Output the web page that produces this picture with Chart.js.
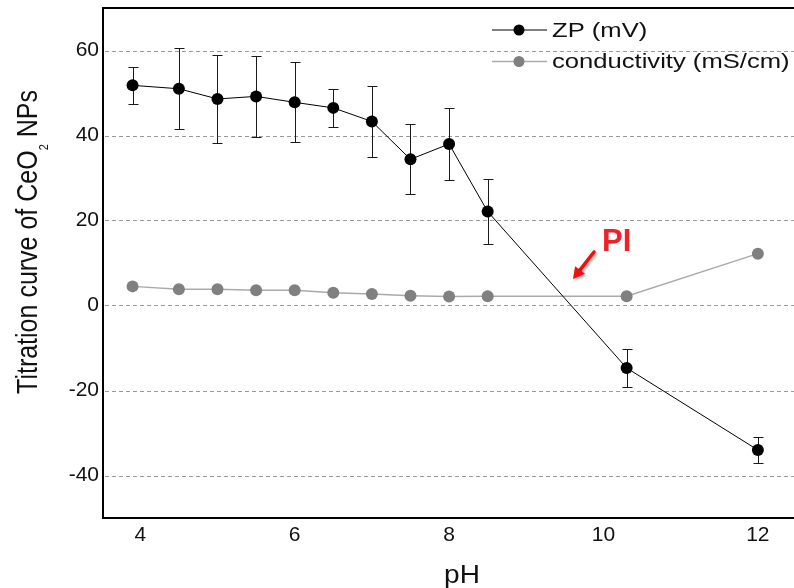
<!DOCTYPE html>
<html><head><meta charset="utf-8">
<script src="https://cdn.jsdelivr.net/npm/chart.js@4.4.0/dist/chart.umd.min.js"></script>
<style>html,body{margin:0;padding:0;background:#fff}#wrap{width:794px;height:588px}</style>
</head><body><div id="wrap"><canvas id="c" width="794" height="588"></canvas></div>
<script>
const pH = [3.9, 4.5, 5.0, 5.5, 6.0, 6.5, 7.0, 7.5, 8.0, 8.5, 10.3, 12.0];
const zp = [51.8, 51.0, 48.6, 49.2, 47.8, 46.5, 43.3, 34.4, 38.0, 22.1, -14.7, -34.0];
const zpErr = [4.3, 9.5, 10.3, 9.6, 9.4, 4.5, 8.4, 8.2, 8.5, 7.6, 4.5, 3.0];
const conductivity = [4.5, 3.8, 3.8, 3.6, 3.6, 3.0, 2.7, 2.3, 2.1, 2.2, 2.2, 12.2];
const xTicks = [4, 6, 8, 10, 12];
const yTicks = [-40, -20, 0, 20, 40, 60];
const seriesNames = ['ZP (mV)', 'conductivity (mS/cm)'];
const xTitle = 'pH';
const yTitleParts = ['Titration curve of CeO', '2', ' NPs'];
const annotationText = 'PI';

const FONT = '"Liberation Sans", Arial, sans-serif';

const extras = {
  id: 'extras',
  beforeDatasetsDraw(chart) {
    const {ctx, chartArea: a, scales: {x, y}} = chart;
    ctx.save();
    ctx.strokeStyle = '#9a9a9a';
    ctx.lineWidth = 1;
    ctx.setLineDash([4, 3]);
    yTicks.forEach(v => {
      const py = Math.round(y.getPixelForValue(v)) + 0.5;
      ctx.beginPath(); ctx.moveTo(a.left + 2, py); ctx.lineTo(a.right, py); ctx.stroke();
    });
    ctx.setLineDash([]);
    ctx.strokeStyle = '#000';
    ctx.lineWidth = 2;
    ctx.beginPath(); ctx.moveTo(a.left - 1, a.top); ctx.lineTo(a.right, a.top); ctx.stroke();
    ctx.strokeStyle = '#1a1a1a';
    ctx.lineWidth = 1;
    pH.forEach((p, i) => {
      const px = Math.round(x.getPixelForValue(p)) + 0.5;
      const t = Math.round(y.getPixelForValue(zp[i] + zpErr[i])) + 0.5;
      const b = Math.round(y.getPixelForValue(zp[i] - zpErr[i])) + 0.5;
      ctx.beginPath();
      ctx.moveTo(px, t); ctx.lineTo(px, b);
      ctx.moveTo(px - 5, t); ctx.lineTo(px + 5, t);
      ctx.moveTo(px - 5, b); ctx.lineTo(px + 5, b);
      ctx.stroke();
    });
    ctx.restore();
  },
  afterDraw(chart) {
    const {ctx} = chart;
    ctx.save();
    const rows = [
      {y: 30, line: '#000', lw: 1, pt: '#000'},
      {y: 61.5, line: '#aaaaaa', lw: 1.5, pt: '#808080'}
    ];
    rows.forEach((r, i) => {
      ctx.strokeStyle = r.line; ctx.lineWidth = r.lw;
      ctx.beginPath(); ctx.moveTo(492, r.y); ctx.lineTo(547, r.y); ctx.stroke();
      ctx.fillStyle = r.pt;
      ctx.beginPath(); ctx.arc(519, r.y, 5.5, 0, Math.PI * 2); ctx.fill();
      ctx.save();
      ctx.translate(552, r.y);
      ctx.scale(1.28, 1);
      ctx.font = '20px ' + FONT;
      ctx.fillStyle = '#111';
      ctx.textBaseline = 'middle';
      ctx.textAlign = 'left';
      ctx.fillText(seriesNames[i], 0, 1);
      ctx.restore();
    });
    ctx.save();
    ctx.translate(462, 583);
    ctx.scale(1.12, 1);
    ctx.font = '25px ' + FONT;
    ctx.fillStyle = '#111';
    ctx.textAlign = 'center';
    ctx.textBaseline = 'alphabetic';
    ctx.fillText(xTitle, 0, 0);
    ctx.restore();
    ctx.save();
    ctx.translate(37, 242);
    ctx.scale(1.2, 1);
    ctx.rotate(-Math.PI / 2);
    ctx.fillStyle = '#111';
    ctx.textBaseline = 'alphabetic';
    ctx.textAlign = 'left';
    const mainF = '25px ' + FONT, subF = '11px ' + FONT;
    ctx.font = mainF; const w0 = ctx.measureText(yTitleParts[0]).width;
    ctx.font = subF; const w1 = ctx.measureText(yTitleParts[1]).width;
    ctx.font = mainF; const w2 = ctx.measureText(yTitleParts[2]).width;
    let sx = -(w0 + w1 + w2) / 2;
    ctx.font = mainF; ctx.fillText(yTitleParts[0], sx, 0); sx += w0;
    ctx.font = subF; ctx.fillText(yTitleParts[1], sx, 9); sx += w1;
    ctx.font = mainF; ctx.fillText(yTitleParts[2], sx, 0);
    ctx.restore();
    ctx.save();
    ctx.shadowColor = 'rgba(0,0,0,0.35)';
    ctx.shadowBlur = 3; ctx.shadowOffsetX = 1.5; ctx.shadowOffsetY = 1.5;
    ctx.strokeStyle = '#f01010'; ctx.fillStyle = '#f01010';
    ctx.lineWidth = 3.5; ctx.lineCap = 'round';
    const x0 = 594, y0 = 252, x1 = 573, y1 = 279;
    const ang = Math.atan2(y1 - y0, x1 - x0);
    const bx = x1 - 9 * Math.cos(ang), by = y1 - 9 * Math.sin(ang);
    ctx.beginPath(); ctx.moveTo(x0, y0); ctx.lineTo(bx, by); ctx.stroke();
    ctx.beginPath();
    ctx.moveTo(x1, y1);
    ctx.lineTo(x1 - 13 * Math.cos(ang - 0.5), y1 - 13 * Math.sin(ang - 0.5));
    ctx.lineTo(x1 - 13 * Math.cos(ang + 0.5), y1 - 13 * Math.sin(ang + 0.5));
    ctx.closePath(); ctx.fill();
    ctx.restore();
    ctx.font = 'bold 31px ' + FONT;
    ctx.fillStyle = '#f0202a';
    ctx.textAlign = 'left';
    ctx.textBaseline = 'alphabetic';
    ctx.fillText(annotationText, 602, 251);
    ctx.restore();
  }
};

new Chart(document.getElementById('c'), {
  type: 'line',
  data: {
    datasets: [
      {
        label: seriesNames[0],
        data: pH.map((p, i) => ({x: p, y: zp[i]})),
        borderColor: '#000', borderWidth: 1,
        pointRadius: 6, pointBackgroundColor: '#000', pointBorderWidth: 0,
        tension: 0, fill: false
      },
      {
        label: seriesNames[1],
        data: pH.map((p, i) => ({x: p, y: conductivity[i]})),
        borderColor: '#aaaaaa', borderWidth: 1.5,
        pointRadius: 6, pointBackgroundColor: '#808080', pointBorderWidth: 0,
        tension: 0, fill: false
      }
    ]
  },
  options: {
    responsive: false, animation: false, devicePixelRatio: 1,
    layout: {autoPadding: false, padding: {left: 0, top: 8, right: 0, bottom: 0}},
    plugins: {legend: {display: false}, tooltip: {enabled: false}},
    scales: {
      x: {
        type: 'linear', min: 3.517, max: 12.468,
        afterBuildTicks: s => { s.ticks = xTicks.map(v => ({value: v})); },
        afterFit: s => { s.height = 70; s.paddingLeft = 0; s.paddingRight = 0; },
        grid: {drawOnChartArea: false, drawTicks: false},
        border: {display: true, color: '#000', width: 2},
        ticks: {font: {size: 21, family: FONT}, color: '#111', padding: 5, maxRotation: 0}
      },
      y: {
        type: 'linear', min: -50, max: 70,
        afterBuildTicks: s => { s.ticks = yTicks.map(v => ({value: v})); },
        afterFit: s => { s.width = 103; s.paddingTop = 0; s.paddingBottom = 0; },
        grid: {drawOnChartArea: false, drawTicks: false},
        border: {display: true, color: '#000', width: 2},
        ticks: {font: {size: 21, family: FONT}, color: '#111', padding: 4}
      }
    }
  },
  plugins: [extras]
});
</script>
</body></html>
